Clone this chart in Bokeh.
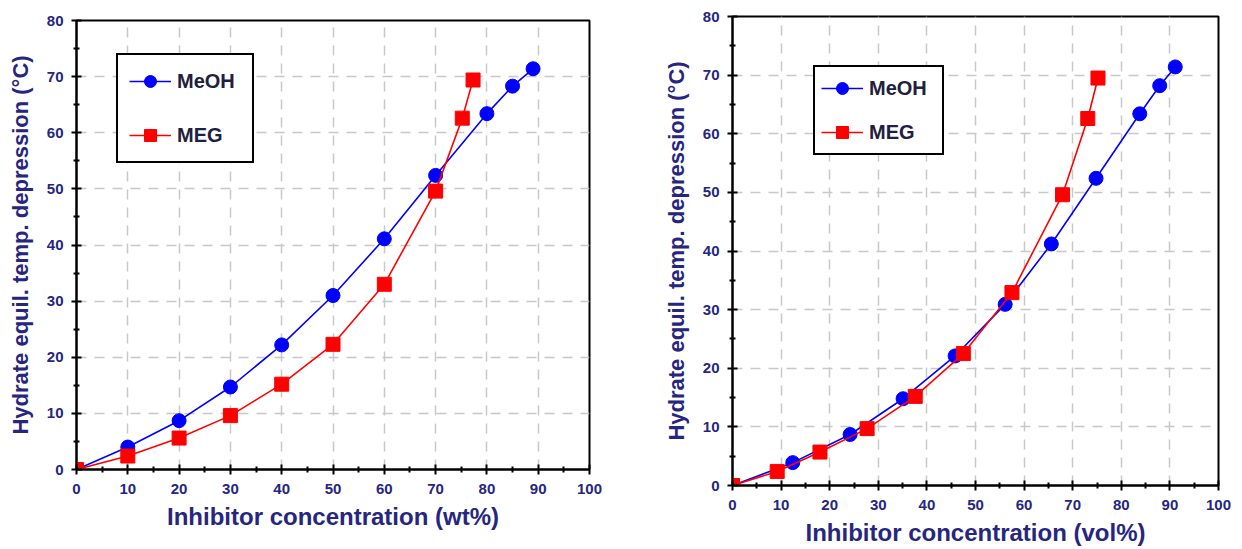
from bokeh.plotting import figure
from bokeh.layouts import row
from bokeh.models import Range1d, Legend, LegendItem, FixedTicker
from bokeh.embed import file_html
from bokeh.resources import INLINE

# ---- data ----
x_ticks = [0, 10, 20, 30, 40, 50, 60, 70, 80, 90, 100]
x_minor = [5, 15, 25, 35, 45, 55, 65, 75, 85, 95]
y_ticks = [0, 10, 20, 30, 40, 50, 60, 70, 80]
y_minor = [5, 15, 25, 35, 45, 55, 65, 75]

wt_meoh_x = [0, 10, 20, 30, 40, 50, 60, 70, 80, 85, 89]
wt_meoh_y = [0, 4.0, 8.7, 14.7, 22.2, 31.0, 41.1, 52.4, 63.4, 68.3, 71.4]
wt_meg_x = [0, 10, 20, 30, 40, 50, 60, 70, 75.2, 77.3]
wt_meg_y = [0, 2.4, 5.6, 9.6, 15.2, 22.3, 33.0, 49.6, 62.6, 69.4]

vol_meoh_x = [0, 12.4, 24.2, 35.1, 45.8, 56.1, 65.6, 74.8, 83.8, 87.9, 91.1]
vol_meoh_y = [0, 3.9, 8.7, 14.8, 22.1, 30.9, 41.2, 52.4, 63.4, 68.2, 71.4]
vol_meg_x = [0, 9.2, 18.0, 27.7, 37.6, 47.5, 57.5, 67.9, 73.1, 75.2]
vol_meg_y = [0, 2.4, 5.7, 9.7, 15.2, 22.5, 32.9, 49.6, 62.6, 69.5]

FONT = "Liberation Sans"
TXT = "#262680"


def make_fig(width, height, mb_left, mb_right, xlabel, mx, my, gx, gy,
             leg_loc, leg_pad, leg_spacing, leg_label_w, margin):
    p = figure(width=width, height=height, output_backend="svg", toolbar_location=None,
               x_range=Range1d(0, 100), y_range=Range1d(0, 80),
               min_border_left=mb_left, min_border_right=mb_right,
               min_border_top=16, min_border_bottom=64, margin=margin)
    p.outline_line_color = "black"
    p.outline_line_width = 2
    p.outline_line_alpha = 1
    p.background_fill_color = "white"
    p.border_fill_color = "white"

    p.xaxis.ticker = FixedTicker(ticks=x_ticks, minor_ticks=x_minor)
    p.yaxis.ticker = FixedTicker(ticks=y_ticks, minor_ticks=y_minor)
    for ax in (p.xaxis[0], p.yaxis[0]):
        ax.axis_line_color = "black"
        ax.axis_line_width = 2
        ax.major_tick_line_color = "black"
        ax.major_tick_line_width = 2
        ax.minor_tick_line_color = "black"
        ax.minor_tick_line_width = 2
        ax.major_tick_in = 5
        ax.major_tick_out = 5
        ax.minor_tick_in = 3
        ax.minor_tick_out = 3
        ax.major_label_text_font = FONT
        ax.major_label_text_font_style = "bold"
        ax.major_label_text_font_size = "15px"
        ax.major_label_text_color = TXT
        ax.axis_label_text_font = FONT
        ax.axis_label_text_font_style = "bold"
        ax.axis_label_text_color = TXT
    p.xaxis.axis_label = xlabel
    p.xaxis.axis_label_text_font_size = "24px"
    p.xaxis.major_label_standoff = 9
    p.xaxis.axis_label_standoff = 6
    p.yaxis.axis_label = "Hydrate equil. temp. depression (\u00b0C)"
    p.yaxis.axis_label_text_font_size = "22px"
    p.yaxis.major_label_standoff = 8
    p.yaxis.axis_label_standoff = 11

    for g in (p.xgrid[0], p.ygrid[0]):
        g.grid_line_color = "#c8c8c8"
        g.grid_line_width = 1.5
        g.grid_line_dash = "10 8"

    l1 = p.line(mx, my, line_color="#0000ff", line_width=1.6)
    s1 = p.scatter(mx, my, marker="circle", size=14, fill_color="#0000ff", line_color="#0000ff")
    l2 = p.line(gx, gy, line_color="#ff0000", line_width=1.6)
    s2 = p.scatter(gx, gy, marker="square", size=14, fill_color="#ff0000", line_color="#ff0000")

    leg = Legend(items=[LegendItem(label="MeOH", renderers=[l1, s1]),
                        LegendItem(label="MEG", renderers=[l2, s2])],
                 location=leg_loc, margin=0, padding=leg_pad, spacing=leg_spacing,
                 glyph_width=42, glyph_height=30, label_height=30, label_standoff=6,
                 label_width=leg_label_w,
                 border_line_color="black", border_line_width=2, border_line_alpha=1,
                 background_fill_color="white", background_fill_alpha=1,
                 label_text_font=FONT, label_text_font_style="bold",
                 label_text_font_size="20px", label_text_color="#202040")
    p.add_layout(leg)
    return p


left = make_fig(620, 529, 76, 31, "Inhibitor concentration (wt%)",
                wt_meoh_x, wt_meoh_y, wt_meg_x, wt_meg_y,
                (40, 306), 11, 24, 64, (4, 0, 0, 0))
right = make_fig(622, 549, 112, 24, "Inhibitor concentration (vol%)",
                 vol_meoh_x, vol_meoh_y, vol_meg_x, vol_meg_y,
                 (81, 330), 6, 14, 67, (0, 0, 0, 0))

layout = row(left, right)
open("out.html", "w").write(file_html(layout, INLINE))
